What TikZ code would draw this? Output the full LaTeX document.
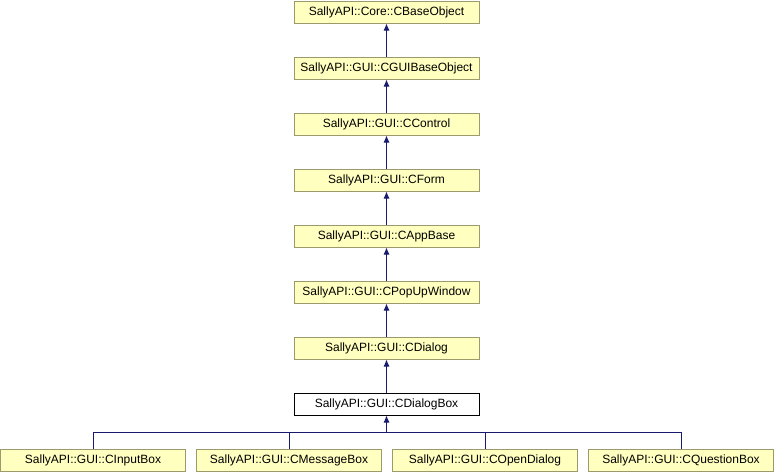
\documentclass[tikz,border=0pt]{standalone}
\usepackage{fontspec}
\setmainfont{Liberation Sans}
\usetikzlibrary{arrows.meta}
\definecolor{boxfill}{HTML}{FFFFC0}
\definecolor{boxline}{HTML}{9A9A6A}
\definecolor{edgecol}{HTML}{191970}
\tikzset{
  cls/.style={draw=boxline, fill=boxfill, line width=1pt, minimum width=185pt, minimum height=22pt, inner sep=0pt, font=\fontsize{12}{14}\selectfont},
  cur/.style={cls, draw=black, fill=white},
  inh/.style={draw=edgecol, line width=1pt, -{Latex[length=7pt,width=6pt]}},
  bus/.style={draw=edgecol, line width=1pt}
}
\begin{document}
\begin{tikzpicture}[x=1pt,y=-1pt]
\useasboundingbox (0,0) rectangle (774,472);
\node[cls] (base) at (386.5,12) {SallyAPI::Core::CBaseObject};
\node[cls] (gbase) at (386.5,68) {SallyAPI::GUI::CGUIBaseObject};
\node[cls] (ctrl) at (386.5,124) {SallyAPI::GUI::CControl};
\node[cls] (form) at (386.5,180) {SallyAPI::GUI::CForm};
\node[cls] (app) at (386.5,236) {SallyAPI::GUI::CAppBase};
\node[cls] (pop) at (386.5,292) {SallyAPI::GUI::CPopUpWindow};
\node[cls] (dlg) at (386.5,348) {SallyAPI::GUI::CDialog};
\node[cur] (dbox) at (386.5,404) {SallyAPI::GUI::CDialogBox};
\node[cls] (inp) at (93,460) {SallyAPI::GUI::CInputBox};
\node[cls] (msg) at (289,460) {SallyAPI::GUI::CMessageBox};
\node[cls] (open) at (485,460) {SallyAPI::GUI::COpenDialog};
\node[cls] (quest) at (681,460) {SallyAPI::GUI::CQuestionBox};
\draw[inh] (gbase) -- (base);
\draw[inh] (ctrl) -- (gbase);
\draw[inh] (form) -- (ctrl);
\draw[inh] (app) -- (form);
\draw[inh] (pop) -- (app);
\draw[inh] (dlg) -- (pop);
\draw[inh] (dbox) -- (dlg);
\coordinate (hub) at (386.5,432);
\draw[inh] (hub) -- (dbox);
\draw[bus] (inp.north) |- (hub);
\draw[bus] (msg.north) |- (hub);
\draw[bus] (open.north) |- (hub);
\draw[bus] (quest.north) |- (hub);
\end{tikzpicture}
\end{document}
